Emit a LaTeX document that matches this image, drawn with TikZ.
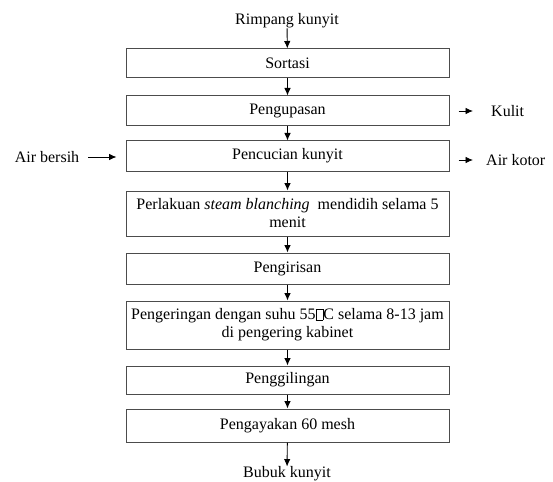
\documentclass[tikz,border=0pt]{standalone}
\usepackage{fontspec}
\setmainfont{Liberation Serif}
\usepackage{tikz}
\usetikzlibrary{shapes,arrows.meta,positioning}

\newcommand{\notdefbox}{{\fboxsep=0pt\fboxrule=0.5pt\fbox{\rule{0pt}{0.66em}\hspace{0.42em}}}}

\tikzset{
    procbox/.style={draw=black!70, line width=1pt, minimum width=323pt, align=center,
        inner sep=2pt, font=\fontsize{16}{18}\selectfont},
    sidelabel/.style={inner sep=0pt, font=\fontsize{16}{18}\selectfont},
    flow/.style={-{Latex[length=7.5pt,width=6.5pt]}, line width=0.9pt}
}

\begin{document}
\begin{tikzpicture}[x=1pt,y=-1pt]
    \useasboundingbox (0,0) rectangle (553,481);

    % Input and output
    \node[sidelabel] (rimpang) at (287,21) {Rimpang kunyit};
    \node[sidelabel] (bubuk) at (287,474) {Bubuk kunyit};

    % Process boxes
    \node[procbox, minimum height=29pt] (sortasi) at (287.5,63.5) {Sortasi};
    \node[procbox, minimum height=30pt] (kupas) at (287.5,111) {Pengupasan};
    \node[procbox, minimum height=30pt] (cuci) at (287.5,156) {Pencucian kunyit};
    \node[procbox, minimum height=45pt] (blanch) at (287.5,213.5) {Perlakuan \textit{steam blanching}\ \ mendidih selama 5\\menit};
    \node[procbox, minimum height=31pt] (iris) at (287.5,268.5) {Pengirisan};
    \node[procbox, minimum height=48pt] (kering) at (287.5,325) {Pengeringan dengan suhu 55\notdefbox C selama 8-13 jam\\di pengering kabinet};
    \node[procbox, minimum height=28pt] (giling) at (287.5,380) {Penggilingan};
    \node[procbox, minimum height=33pt] (ayak) at (287.5,425.5) {Pengayakan 60 mesh};

    % Side inputs and outputs
    \node[sidelabel] (airbersih) at (47,157) {Air bersih};
    \node[sidelabel, anchor=west] (kulit) at (491,111) {Kulit};
    \node[sidelabel, anchor=west] (airkotor) at (486,160) {Air kotor};

    % Main flow
    \draw[flow] (rimpang) -- (sortasi);
    \draw[flow] (sortasi) -- (kupas);
    \draw[flow] (kupas) -- (cuci);
    \draw[flow] (cuci) -- (blanch);
    \draw[flow] (blanch) -- (iris);
    \draw[flow] (iris) -- (kering);
    \draw[flow] (kering) -- (giling);
    \draw[flow] (giling) -- (ayak);
    \draw[flow] (ayak) -- (bubuk);

    % Side arrows
    \draw[flow, shorten <=9pt, shorten >=9pt] (airbersih.east) -- (airbersih.east -| cuci.west);
    \draw[flow, shorten <=9pt, shorten >=18pt] (kupas.east) -- (kupas.east -| kulit.west);
    \draw[flow, shorten <=9pt, shorten >=13pt] (cuci.east |- airkotor.west) -- (airkotor.west);
\end{tikzpicture}
\end{document}
